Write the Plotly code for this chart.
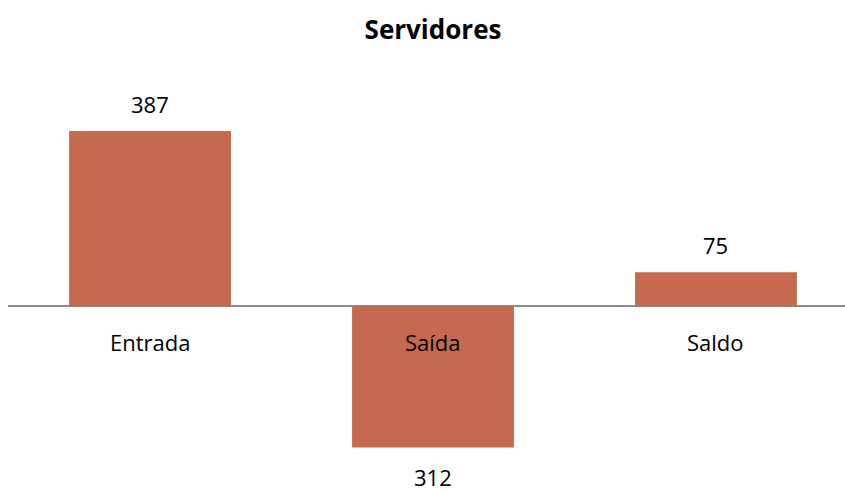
import plotly.graph_objects as go

categories = ["Entrada", "Saída", "Saldo"]
values = [387, -312, 75]
labels = ["387", "312", "75"]

bar_color = "#C5694F"
font_family = "Open Sans, Lato, sans-serif"

fig = go.Figure()
fig.add_trace(go.Bar(
    x=[0, 1, 2], y=values, width=0.572,
    marker=dict(color=bar_color, line=dict(width=0)),
    hoverinfo="skip",
))

annotations = []
for i, (v, t) in enumerate(zip(values, labels)):
    annotations.append(dict(
        x=i, y=v, xref="x", yref="y", text=t, showarrow=False,
        yshift=27 if v >= 0 else -30,
        font=dict(family=font_family, size=22, color="#000000"),
    ))
for i, c in enumerate(categories):
    annotations.append(dict(
        x=i, y=0, xref="x", yref="y", text=c, showarrow=False,
        yshift=-36,
        font=dict(family=font_family, size=22, color="#000000"),
    ))

fig.update_layout(
    width=845, height=490,
    margin=dict(l=8, r=0, t=60, b=10),
    paper_bgcolor="white", plot_bgcolor="white",
    showlegend=False,
    title=dict(text="<b>Servidores</b>", x=433 / 845, xanchor="center", y=1 - 30 / 490, yanchor="middle",
               font=dict(family=font_family, size=26, color="#000000")),
    xaxis=dict(range=[-0.502, 2.456], showticklabels=False, showgrid=False,
               zeroline=False, showline=False, fixedrange=True),
    yaxis=dict(range=[-384, 544], showticklabels=False, showgrid=False,
               zeroline=True, zerolinecolor="#8C8C8C", zerolinewidth=2,
               showline=False, fixedrange=True),
    annotations=annotations,
)

fig.write_html("out.html", config={"displayModeBar": False},
               post_script="document.body.style.margin='0';document.body.style.overflow='hidden';")
